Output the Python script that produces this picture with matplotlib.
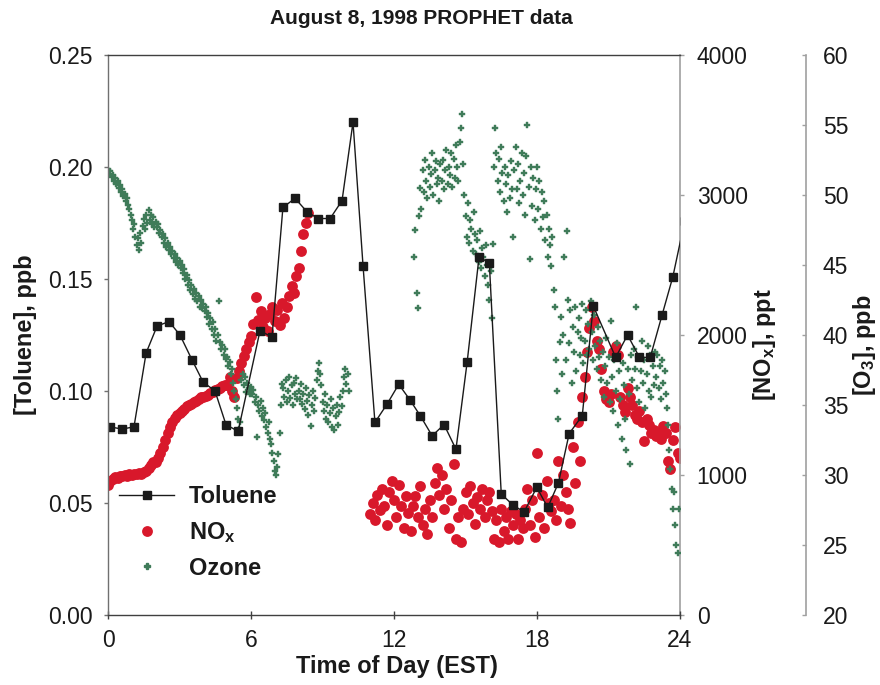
import numpy as np
import matplotlib
matplotlib.use('Agg')
import matplotlib.pyplot as plt
from matplotlib.lines import Line2D
from matplotlib.ticker import FormatStrFormatter, MultipleLocator

plt.rcParams['font.family'] = ['Liberation Sans', 'DejaVu Sans']
plt.rcParams['mathtext.fontset'] = 'custom'
plt.rcParams['mathtext.rm'] = 'Liberation Sans'
plt.rcParams['mathtext.bf'] = 'Liberation Sans:bold'
plt.rcParams['mathtext.it'] = 'Liberation Sans:italic'

# ---------------- data ----------------
toluene_time = [0.08, 0.59, 1.09, 1.6, 2.06, 2.56, 3.02, 3.52, 3.99, 4.49, 4.95, 5.46,
                6.38, 6.88, 7.34, 7.85, 8.35, 8.81, 9.32, 9.82, 10.28, 10.7, 11.2, 11.7,
                12.2, 12.67, 13.1, 13.6, 14.1, 14.6, 15.07, 15.57, 16.0, 16.5, 17.0, 17.46,
                17.99, 18.45, 18.9, 19.35, 19.9, 20.36, 21.3, 21.8, 22.3, 22.75, 23.25, 23.7, 24.2]
toluene_ppb = [0.084, 0.083, 0.084, 0.117, 0.129, 0.131, 0.125, 0.114, 0.104, 0.100, 0.085, 0.082,
               0.127, 0.124, 0.182, 0.186, 0.180, 0.177, 0.177, 0.185, 0.220, 0.156, 0.086, 0.094,
               0.103, 0.096, 0.089, 0.080, 0.085, 0.074, 0.113, 0.160, 0.157, 0.054, 0.049, 0.046,
               0.057, 0.048, 0.059, 0.081, 0.089, 0.138, 0.115, 0.125, 0.115, 0.115, 0.134, 0.151, 0.176]

# NOx, ppt: morning segment starts 0.0 h, afternoon segment starts 11.0 h, 0.1 h sampling
nox_start = [0.0, 11.0]
nox_step = 0.1
nox_morning = [930, 955, 975, 985, 980, 990, 995, 1000, 995, 1005,
               1000, 1010, 1005, 1015, 1010, 1020, 1030, 1050, 1070, 1090,
               1090, 1120, 1160, 1200, 1250, 1300, 1340, 1380, 1410, 1430,
               1440, 1460, 1475, 1490, 1500, 1510, 1520, 1530, 1545, 1555,
               1555, 1565, 1575, 1585, 1595, 1605, 1615, 1625, 1635, 1640,
               1640, 1700, 1600, 1560, 1690, 1740, 1800, 1850, 1900, 1950,
               1990, 2080, 2270, 2110, 2170, 2060, 2120, 2030, 2150, 2200,
               2100, 2180, 2070, 2230, 2120, 2200, 2280, 2350, 2300, 2420,
               2480, 2600, 2720, 2800, 2870]
nox_afternoon = [720, 800, 680, 860, 750, 900, 780, 640, 880, 960,
                 820, 700, 930, 780, 620, 850, 730, 600, 780, 850,
                 700, 920, 640, 760, 580, 820, 700, 940, 1050, 860,
                 1000, 760, 900, 620, 820, 1080, 540, 700, 520, 760,
                 880, 720, 920, 800, 650, 840, 760, 900, 700, 820,
                 880, 740, 540, 680, 520, 760, 600, 700, 540, 740,
                 640, 720, 540, 680, 620, 760, 900, 640, 820, 560,
                 1160, 700, 860, 620, 960, 800, 740, 820, 680, 1100,
                 780, 1000, 880, 760, 660, 1200, 940, 1380, 1100, 1560,
                 1700, 1880, 2050, 2200, 2100, 1960, 1900, 1760, 1600, 1540,
                 1520, 1580, 1880, 1920, 1860, 1560, 1500, 1450, 1620, 1560,
                 1500, 1430, 1400, 1460, 1380, 1240, 1400, 1360, 1300, 1320,
                 1280, 1300, 1260, 1350, 1300, 1100, 1040, 1250, 1340, 1160,
                 1120]

# Ozone, ppb: 0.05 h sampling, segments starting at 0.0 h and 12.85 h
ozone_start = [0.0, 12.85]
ozone_step = 0.05
ozone_morning = [51.8, 51.5, 51.7, 51.3, 51.4, 51.0, 51.2, 50.8, 51.0, 50.5, 50.7, 50.2, 50.4, 49.9, 50.1, 49.6, 49.8, 49.3, 49.0, 48.6,
                 48.2, 47.6, 47.9, 47.0, 46.4, 46.9, 46.1, 47.3, 46.6, 47.8, 48.3, 47.6, 48.6, 48.0, 48.9, 48.2, 48.6, 47.9, 48.4, 47.7,
                 48.1, 47.7, 47.9, 47.3, 47.5, 47.0, 47.2, 46.6, 46.9, 46.3, 46.6, 46.1, 46.3, 45.8, 46.0, 45.5, 45.8, 45.2, 45.5, 45.0,
                 45.3, 44.8, 45.0, 44.4, 44.7, 44.0, 44.3, 43.6, 43.9, 43.2, 43.6, 42.9, 43.3, 42.6, 43.0, 42.4, 42.8, 42.0, 42.5, 41.9,
                 42.2, 41.7, 42.0, 41.3, 41.6, 40.8, 41.2, 40.4, 40.9, 40.0, 40.4, 39.6, 40.0, 42.4, 39.5, 39.0, 39.3, 38.6, 39.0, 38.3,
                 38.4, 37.8, 38.1, 37.2, 37.6, 36.6, 36.0, 35.4, 34.8, 34.0, 33.3, 33.8, 36.8, 37.2, 36.4, 37.0, 35.9, 36.6, 36.2, 35.8,
                 36.3, 35.8, 36.1, 35.2, 35.6, 32.7, 35.0, 34.6, 35.3, 34.2, 34.8, 33.9, 34.4, 33.4, 33.0, 33.8, 32.6, 32.2, 31.6, 31.0,
                 30.3, 30.0, 30.6, 31.5, 33.0, 35.0, 36.5, 36.2, 35.6, 36.8, 35.2, 36.0, 37.0, 35.5, 36.4, 35.0, 36.6, 35.8, 36.9, 35.4,
                 36.0, 35.4, 36.5, 35.1, 35.8, 34.7, 36.2, 35.3, 34.3, 35.7, 33.5, 35.0, 36.0, 34.6, 35.5, 36.8, 37.4, 38.0, 37.2, 36.4,
                 35.2, 34.6, 35.8, 34.0, 35.0, 33.8, 34.4, 35.4, 33.4, 34.8, 33.2, 34.2, 35.0, 33.6, 34.5, 35.6, 34.9, 36.0, 37.0, 37.6,
                 36.5, 37.2, 36.0]
ozone_afternoon = [45.6, 47.5, 43.0,
                   41.9, 48.5, 50.5, 49.0, 51.8, 50.2, 52.5, 51.0, 49.8, 52.0, 50.6, 51.5, 53.0, 50.0, 51.8, 52.4, 50.8, 51.2, 49.6, 52.2,
                   51.0, 52.5, 50.4, 51.8, 53.2, 50.8, 52.0, 51.4, 53.0, 50.6, 52.6, 51.2, 53.6, 52.0, 51.0, 53.8, 54.8, 55.8, 52.2, 50.0,
                   48.5, 47.0, 49.4, 46.6, 48.2, 47.6, 46.0, 48.8, 47.2, 45.8, 46.8, 45.2, 47.4, 44.8, 46.2, 45.6, 44.2, 46.4, 45.0, 43.6,
                   42.5, 44.6, 41.2, 46.5, 52.0, 54.8, 53.0, 51.0, 52.6, 50.2, 53.4, 51.6, 49.6, 52.0, 50.8, 48.8, 51.4, 49.8, 52.4, 50.4,
                   47.0, 51.8, 53.4, 50.4, 52.2, 49.4, 51.0, 53.0, 50.0, 51.6, 48.6, 52.8, 55.0, 50.6, 45.4, 52.0, 49.2, 51.2, 48.2, 50.4,
                   52.0, 49.0, 51.0, 47.6, 50.2, 48.4, 49.6, 46.8, 48.6, 45.6, 47.6, 46.4, 44.9, 47.0, 43.2, 42.0, 38.2, 36.0, 34.0, 39.5,
                   41.3, 37.2, 40.0, 45.6, 38.2, 47.4, 42.5, 39.4, 41.8, 36.6, 40.6, 38.8, 42.0, 37.4, 40.2, 41.2, 38.6, 39.8, 42.2, 38.0,
                   39.6, 41.8, 38.6, 40.8, 39.0, 42.4, 40.2, 38.2, 41.4, 39.2, 37.6, 40.6, 38.4, 39.6, 36.8, 38.8, 35.6, 37.8, 39.8, 36.6,
                   38.4, 35.2, 41.0, 37.0, 34.6, 38.2, 36.0, 39.4, 33.6, 37.4, 35.4, 32.6, 38.0, 36.4, 34.0, 31.8, 37.6, 35.8, 30.8, 38.6,
                   36.8, 39.0, 37.6, 42.0, 36.2, 38.4, 35.2, 37.4, 39.6, 36.6, 38.2, 34.8, 37.2, 39.2, 36.0, 38.6, 35.6, 37.8, 36.4, 38.8,
                   37.0, 38.6, 36.2, 37.8, 35.4, 38.2, 36.6, 37.4, 35.8, 34.8, 33.6, 31.8, 30.4, 29.0, 27.6, 28.8, 26.4, 25.0, 24.4, 27.6]

x_ticks = [0, 6, 12, 18, 24]

# sampling times for the measured series
nox_t = np.concatenate([np.round(nox_start[0] + nox_step * np.arange(len(nox_morning)), 3),
                        np.round(nox_start[1] + nox_step * np.arange(len(nox_afternoon)), 3)])
nox_v = np.array(nox_morning + nox_afternoon, dtype=float)
oz_t = np.concatenate([np.round(ozone_start[0] + ozone_step * np.arange(len(ozone_morning)), 3),
                       np.round(ozone_start[1] + ozone_step * np.arange(len(ozone_afternoon)), 3)])
oz_v = np.array(ozone_morning + ozone_afternoon, dtype=float)

# ---------------- styling ----------------
RED = '#d8182b'
GREEN = '#3f7b59'
BLACK = '#1a1a1a'
TXT = '#1a1a1a'
W, H = 880, 685
L, R, B, T = 108, 680, 615, 55

fig = plt.figure(figsize=(W / 100, H / 100), dpi=100)
ax = fig.add_axes([L / W, 1 - B / H, (R - L) / W, (B - T) / H])
ax2 = ax.twinx()
ax3 = ax.twinx()

# draw order: NOx (bottom), ozone, toluene (top)
ax2.set_zorder(1)
ax3.set_zorder(2)
ax.set_zorder(3)
for a in (ax, ax2, ax3):
    a.patch.set_visible(False)

ax2.plot(nox_t, nox_v, ls='none', marker='o', ms=7.8, mfc=RED, mec='none', clip_on=True)
ax3.plot(oz_t, oz_v, ls='none', marker='P', ms=4.6, mfc=GREEN, mec=GREEN, mew=0.3, clip_on=True)
ax.plot(toluene_time, toluene_ppb, color=BLACK, lw=1.0, marker='s', ms=6.3,
        mfc=BLACK, mec=BLACK, clip_on=True)

ax.set_xlim(0, 24)
ax.set_ylim(0, 0.25)
ax2.set_ylim(0, 4000)
ax3.set_ylim(20, 60)

ax.set_xticks(x_ticks)
ax.yaxis.set_major_locator(MultipleLocator(0.05))
ax.yaxis.set_major_formatter(FormatStrFormatter('%.2f'))
ax2.yaxis.set_major_locator(MultipleLocator(1000))
ax3.yaxis.set_major_locator(MultipleLocator(5))

# spines
ax.spines['right'].set_visible(False)
ax.spines['left'].set_color('#707070')
for s in ('top', 'bottom'):
    ax.spines[s].set_color('#404040')
for s in ('left', 'top', 'bottom'):
    ax.spines[s].set_linewidth(1.0)
    ax2.spines[s].set_visible(False)
    ax3.spines[s].set_visible(False)
ax2.spines['right'].set_color('#a0a0a0')
ax2.spines['right'].set_linewidth(1.2)
ax3.spines['right'].set_position(('axes', (806 - L) / (R - L)))
ax3.spines['right'].set_color('#a0a0a0')
ax3.spines['right'].set_linewidth(1.2)

FS = 16.5
ax.tick_params(axis='y', direction='out', length=3, width=1, color='#707070',
               labelsize=FS, labelcolor=TXT, pad=8)
ax.tick_params(axis='x', direction='inout', length=6, width=1, color='#404040',
               labelsize=FS, labelcolor=TXT, pad=7)
ax2.tick_params(axis='y', direction='out', length=3, width=1, color='#a0a0a0',
                labelsize=FS, labelcolor=TXT, pad=9)
ax3.tick_params(axis='y', direction='in', length=3, width=1, color='#a0a0a0',
                labelsize=FS, labelcolor=TXT, pad=12)

LFS = 17
ax.set_xlabel('Time of Day (EST)', fontsize=LFS, fontweight='bold', color=TXT)
ax.xaxis.set_label_coords((397 - L) / (R - L), (B - 666) / (B - T))
ax.xaxis.label.set_va('center')

ax.set_ylabel('[Toluene], ppb', fontsize=LFS, fontweight='bold', color=TXT)
ax.yaxis.set_label_coords((26 - L) / (R - L), (B - 335) / (B - T))
ax.yaxis.label.set_va('center')

ax2.set_ylabel(r'[NO$_\mathbf{x}$], ppt', fontsize=LFS, fontweight='bold', color=TXT)
ax2.yaxis.set_label_coords((764 - L) / (R - L), (B - 345) / (B - T))
ax2.yaxis.label.set_va('center')

ax3.set_ylabel(r'[O$_\mathbf{3}$], ppb', fontsize=LFS, fontweight='bold', color=TXT)
ax3.yaxis.set_label_coords((864 - L) / (R - L), (B - 345) / (B - T))
ax3.yaxis.label.set_va('center')

fig.text(421 / W, 1 - 18 / H, 'August 8, 1998 PROPHET data', ha='center', va='center',
         fontsize=15, fontweight='bold', color=TXT)

handles = [Line2D([], [], color=BLACK, lw=1.0, marker='s', ms=6.3, mfc=BLACK, mec=BLACK),
           Line2D([], [], ls='none', marker='o', ms=7.8, mfc=RED, mec='none'),
           Line2D([], [], ls='none', marker='P', ms=4.6, mfc=GREEN, mec=GREEN)]
labels = ['Toluene', r'NO$_\mathbf{x}$', 'Ozone']
leg = ax.legend(handles, labels, loc='upper left', bbox_to_anchor=(119 / W, 1 - 485 / H),
                bbox_transform=fig.transFigure, frameon=False, borderpad=0, borderaxespad=0,
                handlelength=2.35, handletextpad=0.6, labelspacing=0.5,
                prop={'weight': 'bold', 'size': LFS})
for t in leg.get_texts():
    t.set_color(TXT)

fig.savefig('out.png', dpi=100, facecolor='white')
